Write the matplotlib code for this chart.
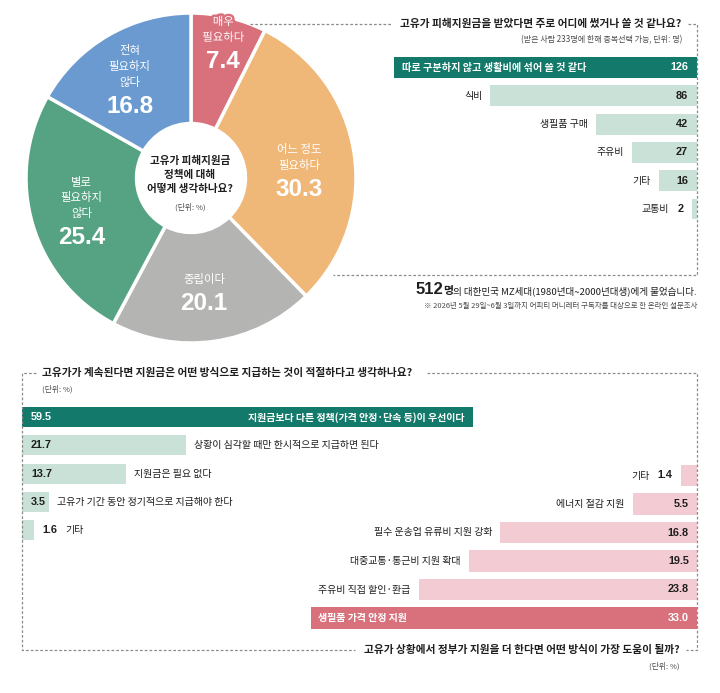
import numpy as np
import matplotlib
matplotlib.use("Agg")
import matplotlib.pyplot as plt
import matplotlib.patheffects as pe

KR = ["Noto Sans CJK KR", "DejaVu Sans"]
NUM = ["Liberation Sans", "Noto Sans CJK KR"]
plt.rcParams["font.family"] = KR

INK = "#1e1e1e"; SUB = "#4a4a4a"; DASH = "#8c8c8c"
TEAL = "#13796a"; MINT = "#c9e1d6"; ROSE = "#d8717c"; PINK = "#f3cbd2"

# --- data ---------------------------------------------------------------
PIE_LABELS = ["매우\n필요하다", "어느 정도\n필요하다", "중립이다", "별로\n필요하지\n않다", "전혀\n필요하지\n않다"]
PIE_VALUES = [7.4, 30.3, 20.1, 25.4, 16.8]
PIE_COLORS = ["#d8717c", "#f0b878", "#b4b5b3", "#55a383", "#6a9ad0"]

SPEND_LABELS = ["따로 구분하지 않고 생활비에 섞어 쓸 것 같다", "식비", "생필품 구매", "주유비", "기타", "교통비"]
SPEND_VALUES = [126, 86, 42, 27, 16, 2]

PAY_LABELS = ["지원금보다 다른 정책(가격 안정·단속 등)이 우선이다", "상황이 심각할 때만 한시적으로 지급하면 된다",
              "지원금은 필요 없다", "고유가 기간 동안 정기적으로 지급해야 한다", "기타"]
PAY_VALUES = [59.5, 21.7, 13.7, 3.5, 1.6]

HELP_LABELS = ["기타", "에너지 절감 지원", "필수 운송업 유류비 지원 강화", "대중교통·통근비 지원 확대",
               "주유비 직접 할인·환급", "생필품 가격 안정 지원"]
HELP_VALUES = [1.4, 5.5, 16.8, 19.5, 23.8, 33.0]

# --- canvas in pixel units -------------------------------------------------
W, H = 720, 693
fig = plt.figure(figsize=(7.2, 6.93), dpi=100)
fig.patch.set_facecolor("white")

def box(l, t, r, b):
    a = fig.add_axes([l / W, 1 - b / H, (r - l) / W, (b - t) / H])
    a.set_facecolor("none"); a.axis("off")
    return a

ov = box(0, 0, W, H)
ov.set_xlim(0, W); ov.set_ylim(H, 0); ov.set_zorder(10)

def dash(xs, ys):
    ov.plot(xs, ys, color=DASH, lw=0.9, ls=(0, (2.2, 1.6)))

def vwidth(s):
    return 6 * sum(c.isdigit() for c in s) + 3 * s.count(".")

def note(ax, x, y, s, dx, ha, color, num=False, bold=False, size=7.2):
    ax.annotate(s, (x, y), xytext=(dx, 0), textcoords="offset pixels", ha=ha, va="center",
                color=color, fontsize=7.8 if num else size, family=NUM if num else KR,
                fontweight="bold" if (bold or num) else "normal")

# --- donut -------------------------------------------------------------------
CX, CY, R = 191, 178, 165
axp = box(CX - R, CY - R, CX + R, CY + R)
wedges, _ = axp.pie(PIE_VALUES, colors=PIE_COLORS, startangle=90, counterclock=False, radius=1,
                    wedgeprops=dict(width=0.67, edgecolor="white", linewidth=2.5))
axp.set_xlim(-1, 1); axp.set_ylim(-1, 1)
rfac = [0.85, 0.69, 0.69, 0.69, 0.69]
nudge = [(0, 1), (-4, 10), (-3, 2), (0, 1), (-4, 0)]
for k, (w, lab, v, rf, (nx, ny)) in enumerate(zip(wedges, PIE_LABELS, PIE_VALUES, rfac, nudge)):
    th = np.deg2rad((w.theta1 + w.theta2) / 2)
    px = CX + R * rf * np.cos(th) + nx
    py = CY - R * rf * np.sin(th) + ny
    n = lab.count("\n") + 1
    hb = 6 + (n - 1) * 15.5 + 23 + 9
    top = py - hb / 2
    lt = ov.text(px, top + 6 + (n - 1) * 15.5 / 2, lab, ha="center", va="center", color="white",
                 fontsize=8.2, linespacing=1.52, multialignment="center")
    if k == 0:  # label pokes out of the thin slice: keep a slice-coloured halo
        lt.set_path_effects([pe.withStroke(linewidth=3.5, foreground=PIE_COLORS[0])])
    ov.text(px, top + 6 + (n - 1) * 15.5 + 24, "%.1f" % v, ha="center", va="center",
            color="white", fontsize=17.5, fontweight="bold", family=NUM)
ov.text(CX - 1, 175, "고유가 피해지원금\n정책에 대해\n어떻게 생각하나요?", ha="center", va="center",
        fontsize=7.6, fontweight="bold", color=INK, linespacing=1.5)
ov.text(CX - 1, 207, "(단위: %)", ha="center", va="center", fontsize=5.6, color=SUB)

# --- top right: where the money goes --------------------------------------
ax1 = box(394, 53.35, 697, 223.15)
ax1.barh(range(len(SPEND_VALUES)), SPEND_VALUES, height=0.74,
         color=[TEAL] + [MINT] * (len(SPEND_VALUES) - 1))
ax1.set_xlim(max(SPEND_VALUES), 0); ax1.set_ylim(len(SPEND_VALUES) - 0.5, -0.5)
ppu = 303 / max(SPEND_VALUES)
for i, (lab, v) in enumerate(zip(SPEND_LABELS, SPEND_VALUES)):
    s = "%d" % v
    if i == 0:
        note(ax1, v, i, lab, 8, "left", "white", bold=True, size=7.3)
        note(ax1, 0, i, s, -9, "right", "white", num=True)
    elif v * ppu >= vwidth(s) + 12:
        note(ax1, 0, i, s, -9, "right", INK, num=True)
        note(ax1, v, i, lab, -8, "right", INK)
    else:
        note(ax1, v, i, s, -9, "right", INK, num=True)
        note(ax1, v, i, lab, -(9 + vwidth(s) + 8), "right", INK)
ov.text(400, 24, "고유가 피해지원금을 받았다면 주로 어디에 썼거나 쓸 것 같나요?", ha="left", va="center",
        fontsize=7.7, fontweight="bold", color=INK)
ov.text(682, 40, "(받은 사람 233명에 한해 중복선택 가능, 단위: 명)", ha="right", va="center",
        fontsize=5.8, color=SUB)
dash([250, 392], [24, 24]); dash([688, 697, 697, 333], [24, 24, 275, 275])

t = ov.text(697, 294, "의 대한민국 MZ세대(1980년대~2000년대생)에게 물었습니다.", ha="right", va="baseline",
            fontsize=6.9, color=INK)
fig.canvas.draw()
rend = fig.canvas.get_renderer()
inv = ov.transData.inverted()
x0 = inv.transform((t.get_window_extent(rend).x0, 0))[0]
t2 = ov.text(x0, 294, "명", ha="right", va="baseline", fontsize=7.8, fontweight="bold", color=INK)
x1 = inv.transform((t2.get_window_extent(rend).x0, 0))[0]
ov.text(x1, 294, "512", ha="right", va="baseline", fontsize=12, fontweight="bold", color=INK, family=NUM)
ov.text(697, 306, "※ 2026년 5월 29일~6월 3일까지 어피티 머니레터 구독자를 대상으로 한 온라인 설문조사",
        ha="right", va="center", fontsize=5.4, color=SUB)

# --- bottom left: how to pay ------------------------------------------------
ax2 = box(22, 403, 473, 544.2)
ax2.barh(range(len(PAY_VALUES)), PAY_VALUES, height=0.71,
         color=[TEAL] + [MINT] * (len(PAY_VALUES) - 1))
ax2.set_xlim(0, max(PAY_VALUES)); ax2.set_ylim(len(PAY_VALUES) - 0.5, -0.5)
ppu = 451 / max(PAY_VALUES)
for i, (lab, v) in enumerate(zip(PAY_LABELS, PAY_VALUES)):
    s = "%.1f" % v
    if i == 0:
        note(ax2, 0, i, s, 9, "left", "white", num=True)
        note(ax2, v, i, lab, -8, "right", "white", bold=True)
    elif v * ppu >= vwidth(s) + 10:
        note(ax2, 0, i, s, 9, "left", INK, num=True)
        note(ax2, v, i, lab, 8, "left", INK)
    else:
        note(ax2, v, i, s, 8, "left", INK, num=True)
        note(ax2, v, i, lab, 8 + vwidth(s) + 8, "left", INK)
ov.text(42, 373, "고유가가 계속된다면 지원금은 어떤 방식으로 지급하는 것이 적절하다고 생각하나요?", ha="left",
        va="center", fontsize=7.7, fontweight="bold", color=INK)
ov.text(42, 389, "(단위: %)", ha="left", va="center", fontsize=5.6, color=SUB)

# --- bottom right: what would help ------------------------------------------
ax3 = box(311, 461.25, 697, 632.25)
ax3.barh(range(len(HELP_VALUES)), HELP_VALUES, height=0.74,
         color=[PINK] * (len(HELP_VALUES) - 1) + [ROSE])
ax3.set_xlim(max(HELP_VALUES), 0); ax3.set_ylim(len(HELP_VALUES) - 0.5, -0.5)
ppu = 386 / max(HELP_VALUES)
last = len(HELP_VALUES) - 1
for i, (lab, v) in enumerate(zip(HELP_LABELS, HELP_VALUES)):
    s = "%.1f" % v
    if i == last:
        note(ax3, v, i, lab, 7, "left", "white", bold=True)
        note(ax3, 0, i, s, -8, "right", "white", num=True)
    elif v * ppu >= vwidth(s) + 10:
        note(ax3, 0, i, s, -8, "right", INK, num=True)
        note(ax3, v, i, lab, -8, "right", INK)
    else:
        note(ax3, v, i, s, -8, "right", INK, num=True)
        note(ax3, v, i, lab, -(8 + vwidth(s) + 8), "right", INK)
ov.text(680, 650, "고유가 상황에서 정부가 지원을 더 한다면 어떤 방식이 가장 도움이 될까?", ha="right",
        va="center", fontsize=7.7, fontweight="bold", color=INK)
ov.text(680, 666, "(단위: %)", ha="right", va="center", fontsize=5.6, color=SUB)

dash([36, 22, 22, 355], [373, 373, 650, 650])
dash([427, 697, 697, 686], [373, 373, 650, 650])

fig.savefig("out.png", dpi=100, facecolor="white")
